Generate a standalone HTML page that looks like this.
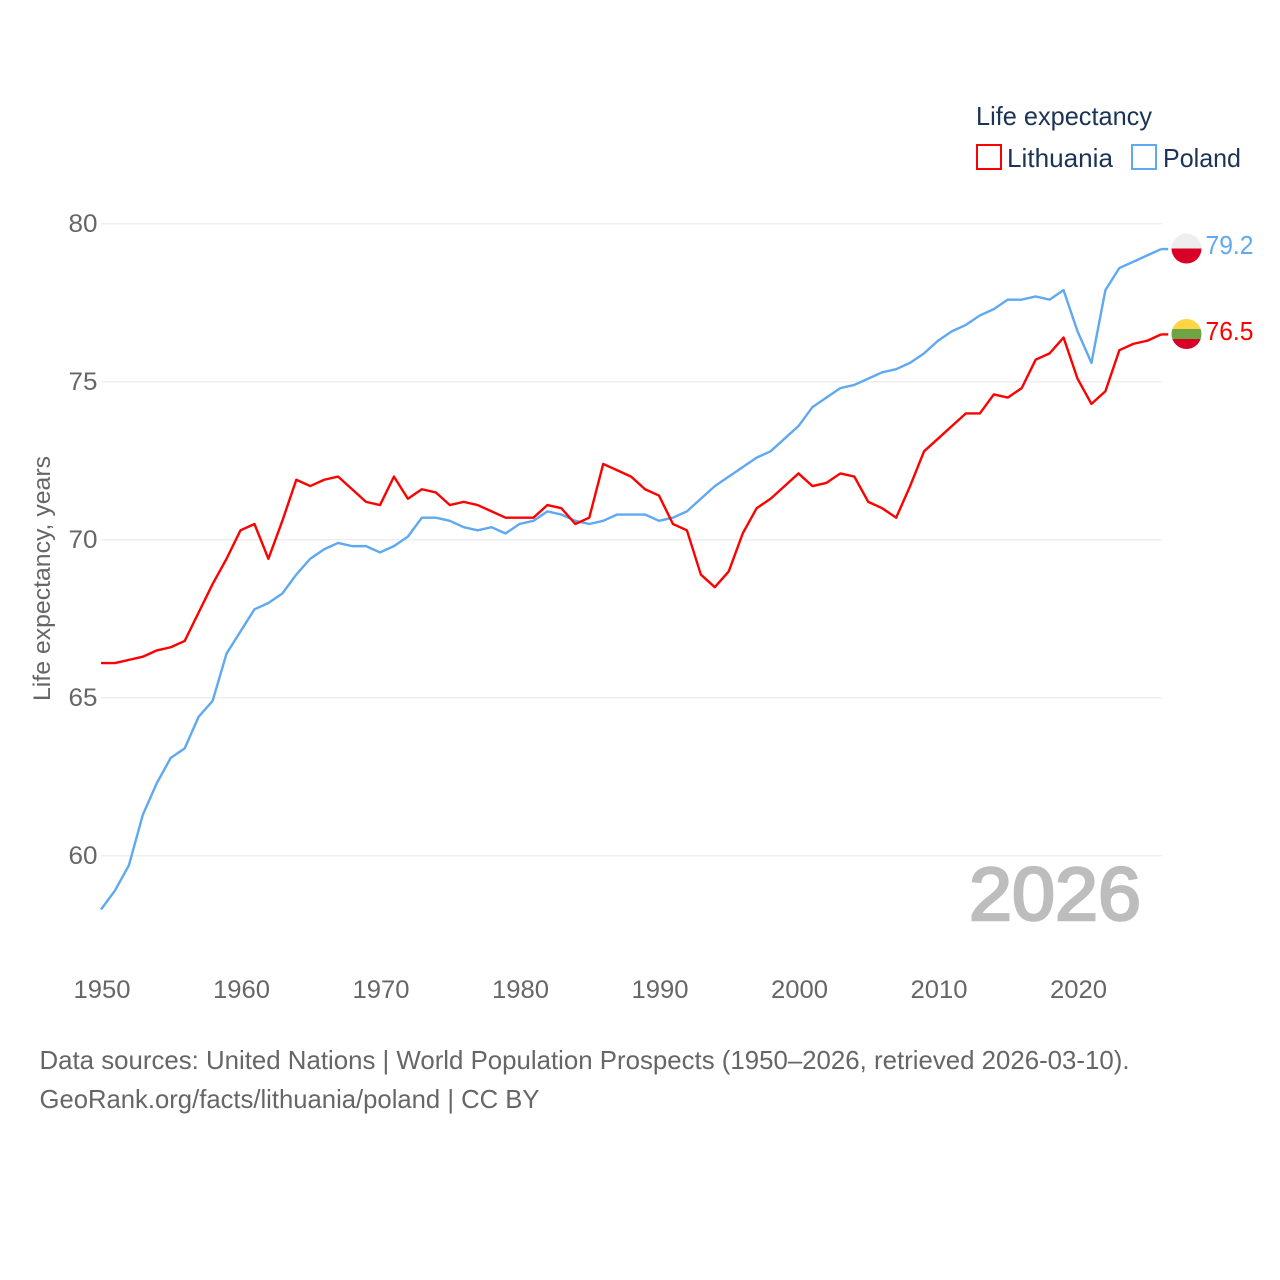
<!DOCTYPE html>
<html lang="en">
<head>
<meta charset="utf-8">
<title>Life expectancy: Lithuania and Poland</title>
<style>
html,body{margin:0;padding:0;background:#fff;}
svg{display:block;font-family:"Liberation Sans",sans-serif;}
</style>
</head>
<body>
<svg id="chart" xmlns="http://www.w3.org/2000/svg" width="1280" height="1280" viewBox="0 0 1280 1280">
  <rect width="1280" height="1280" fill="#ffffff"/>
  <g id="grid"></g>
  <g id="yticks"></g>
  <g id="xticks"></g>
  <text transform="translate(50,701) rotate(-90)" font-size="24" fill="#666666" textLength="245" lengthAdjust="spacingAndGlyphs">Life expectancy, years</text>
  <text x="969" y="920" font-size="75" fill="#bdbdbd" stroke="#bdbdbd" stroke-width="2.6" textLength="172" lengthAdjust="spacingAndGlyphs">2026</text>
  <g id="series"></g>

  <g>
    <text x="976" y="125" font-size="26" fill="#1b3354" textLength="176" lengthAdjust="spacingAndGlyphs">Life expectancy</text>
    <g>
      <rect x="977" y="145" width="24" height="24" fill="#ffffff" stroke="#ff0000" stroke-width="2"/>
      <text x="1007" y="167" font-size="26" fill="#1b3354" textLength="106" lengthAdjust="spacingAndGlyphs">Lithuania</text>
    </g>
    <g>
      <rect x="1132" y="145" width="24" height="24" fill="#ffffff" stroke="#5fa8f2" stroke-width="2"/>
      <text x="1163" y="167" font-size="26" fill="#1b3354" textLength="78" lengthAdjust="spacingAndGlyphs">Poland</text>
    </g>
  </g>

  <defs>
    <clipPath id="flag-clip-pl"><circle cx="1186.5" cy="248.5" r="15"/></clipPath>
    <clipPath id="flag-clip-lt"><circle cx="1186.5" cy="334" r="15"/></clipPath>
  </defs>
  <g clip-path="url(#flag-clip-pl)">
    <rect x="1171" y="233" width="31" height="15.5" fill="#eeeeee"/>
    <rect x="1171" y="248.5" width="31" height="16" fill="#d80027"/>
  </g>
  <g clip-path="url(#flag-clip-lt)">
    <rect x="1171" y="319" width="31" height="10" fill="#ffd543"/>
    <rect x="1171" y="329" width="31" height="10" fill="#6da544"/>
    <rect x="1171" y="339" width="31" height="10" fill="#d80027"/>
  </g>
  <text id="end-poland" x="1205.5" y="254" font-size="26" fill="#5fa8f2" textLength="48" lengthAdjust="spacingAndGlyphs"></text>
  <text id="end-lithuania" x="1205.5" y="340" font-size="26" fill="#ff0000" textLength="48" lengthAdjust="spacingAndGlyphs"></text>

  <g>
    <text x="39.5" y="1069" font-size="26" fill="#666666" textLength="1090" lengthAdjust="spacingAndGlyphs">Data sources: United Nations | World Population Prospects (1950–2026, retrieved 2026-03-10).</text>
    <text x="39.5" y="1108" font-size="26" fill="#666666" textLength="500" lengthAdjust="spacingAndGlyphs">GeoRank.org/facts/lithuania/poland | CC BY</text>
  </g>
</svg>
<script>
const firstYear = 1950;
const lithuania = [66.1,66.1,66.2,66.3,66.5,66.6,66.8,67.7,68.6,69.4,70.3,70.5,69.4,70.6,71.9,71.7,71.9,72.0,71.6,71.2,71.1,72.0,71.3,71.6,71.5,71.1,71.2,71.1,70.9,70.7,70.7,70.7,71.1,71.0,70.5,70.7,72.4,72.2,72.0,71.6,71.4,70.5,70.3,68.9,68.5,69.0,70.2,71.0,71.3,71.7,72.1,71.7,71.8,72.1,72.0,71.2,71.0,70.7,71.7,72.8,73.2,73.6,74.0,74.0,74.6,74.5,74.8,75.7,75.9,76.4,75.1,74.3,74.7,76.0,76.2,76.3,76.5];
const poland = [58.3,58.9,59.7,61.3,62.3,63.1,63.4,64.4,64.9,66.4,67.1,67.8,68.0,68.3,68.9,69.4,69.7,69.9,69.8,69.8,69.6,69.8,70.1,70.7,70.7,70.6,70.4,70.3,70.4,70.2,70.5,70.6,70.9,70.8,70.6,70.5,70.6,70.8,70.8,70.8,70.6,70.7,70.9,71.3,71.7,72.0,72.3,72.6,72.8,73.2,73.6,74.2,74.5,74.8,74.9,75.1,75.3,75.4,75.6,75.9,76.3,76.6,76.8,77.1,77.3,77.6,77.6,77.7,77.6,77.9,76.6,75.6,77.9,78.6,78.8,79.0,79.2];
const yTickValues = [60,65,70,75,80];
const xTickValues = [1950,1960,1970,1980,1990,2000,2010,2020];

const NS = 'http://www.w3.org/2000/svg';
const xScale = function (year) { return 101 + (year - 1950) * 13.95; };
const yScale = function (value) { return 223.8 + (80 - value) * 31.6; };

function svgEl(tag, attrs, parent) {
  const el = document.createElementNS(NS, tag);
  Object.keys(attrs).forEach(function (k) { el.setAttribute(k, attrs[k]); });
  parent.appendChild(el);
  return el;
}

const gridGroup = document.getElementById('grid');
const yTickGroup = document.getElementById('yticks');
const xTickGroup = document.getElementById('xticks');
const seriesGroup = document.getElementById('series');

yTickValues.forEach(function (v) {
  const line = svgEl('line', {x1: 101, x2: 1161.5, y1: yScale(v), y2: yScale(v), stroke: '#eeeeee', 'stroke-width': 1.5}, gridGroup);
  
  
  const label = svgEl('text', {x: 97.5, y: yScale(v) + 8, 'text-anchor': 'end', 'font-size': 25, fill: '#666666', textLength: 29, lengthAdjust: 'spacingAndGlyphs'}, yTickGroup);
  
  
  label.textContent = v;
});

xTickValues.forEach(function (yr) {
  const label = svgEl('text', {x: xScale(yr) + 1, y: 998, 'text-anchor': 'middle', 'font-size': 25, fill: '#666666', textLength: 57, lengthAdjust: 'spacingAndGlyphs'}, xTickGroup);
  
  
  label.textContent = yr;
});

function drawSeries(values, color, name) {
  const pts = values.map(function (v, i) { return xScale(firstYear + i).toFixed(2) + ',' + yScale(v).toFixed(2); });
  const path = svgEl('polyline', {points: pts.join(' '), fill: 'none', stroke: color, 'stroke-width': 2.4, 'stroke-linejoin': 'round'}, seriesGroup);
  
  
  const last = values[values.length - 1];
  const lastX = xScale(firstYear + values.length - 1);
  const stub = svgEl('line', {x1: lastX, x2: lastX + 7, y1: yScale(last), y2: yScale(last), stroke: color, 'stroke-width': 2.4}, seriesGroup);
  
  
  document.getElementById('end-' + name).textContent = last.toFixed(1);
}

drawSeries(poland, '#5fa8f2', 'poland');
drawSeries(lithuania, '#ff0000', 'lithuania');
</script>
</body>
</html>
